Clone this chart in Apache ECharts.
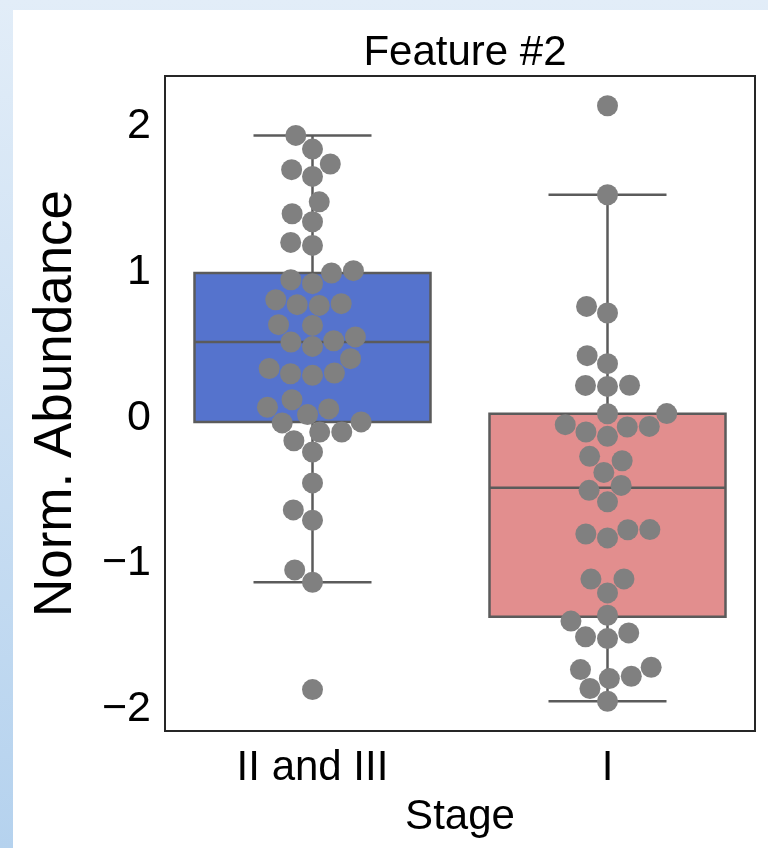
<!DOCTYPE html>
<html>
<head>
<meta charset="utf-8">
<script src="https://cdn.jsdelivr.net/npm/echarts@6/dist/echarts.min.js"></script>
<style>
  html, body {
    margin: 0; padding: 0; width: 768px; height: 848px; overflow: hidden;
    background: linear-gradient(to bottom, #e2edf8 0%, #b5d2ee 100%);
  }
  #chart { position: absolute; left: 13px; top: 10px; width: 755px; height: 838px; background: #fff; }
</style>
</head>
<body>
<div id="chart"></div>
<script>
// Stage groups and normalised abundance of feature #2 per sample
const categories = ['II and III', 'I'];
const stageIIandIII = [1.934, 1.840, 1.738, 1.699, 1.653, 1.479, 1.397, 1.342, 1.201, 1.180,
  1.007, 0.991, 0.945, 0.918, 0.808, 0.781, 0.774, 0.769, 0.637, 0.632,
  0.553, 0.527, 0.518, 0.488, 0.404, 0.336, 0.306, 0.301, 0.290, 0.123,
  0.071, 0.060, 0.021, -0.029, -0.036, -0.098, -0.099, -0.158, -0.235, -0.447,
  -0.632, -0.703, -1.043, -1.128, -1.863];
const stageI = [2.137, 1.527, 0.762, 0.717, 0.425, 0.370, 0.222, 0.221, 0.214, 0.028,
  0.027, -0.048, -0.060, -0.064, -0.098, -0.128, -0.265, -0.295, -0.375, -0.464,
  -0.498, -0.577, -0.767, -0.768, -0.797, -0.824, -1.105, -1.106, -1.201, -1.354,
  -1.394, -1.475, -1.502, -1.514, -1.710, -1.726, -1.772, -1.788, -1.856, -1.943];
const yTicks = [-2, -1, 0, 1, 2];

const groups = [stageIIandIII, stageI];
const boxColors = ['#5573cd', '#e28e8e'];
const lineColor = '#5b5b5b';
const pointColor = '#808080';
const textColor = '#000000';
const font = "'Liberation Sans', Arial, Helvetica, sans-serif";
const pointRadius = 10.5;

// Quartiles with linear interpolation, whiskers at 1.5 IQR
function quantile(sorted, p) {
  const pos = (sorted.length - 1) * p;
  const lo = Math.floor(pos), hi = Math.ceil(pos);
  return sorted[lo] + (sorted[hi] - sorted[lo]) * (pos - lo);
}
function boxStats(values) {
  const s = values.slice().sort((a, b) => a - b);
  const q1 = quantile(s, 0.25), med = quantile(s, 0.5), q3 = quantile(s, 0.75);
  const iqr = q3 - q1;
  const low = Math.min(...s.filter(v => v >= q1 - 1.5 * iqr));
  const high = Math.max(...s.filter(v => v <= q3 + 1.5 * iqr));
  return [low, q1, med, q3, high];
}
const boxData = groups.map((g, i) => [i].concat(boxStats(g)));

// Value range padded by 5% on each side
const all = groups.flat();
const dMin = Math.min(...all), dMax = Math.max(...all);
const pad = (dMax - dMin) * 0.05;
const yMin = dMin - pad, yMax = dMax + pad;

function renderBox(params, api) {
  const i = api.value(0);
  const cx = api.coord([i, 0])[0];
  const band = api.size([1, 0])[0];
  const half = band * 0.4, cap = band * 0.2;
  const py = k => api.coord([i, api.value(k)])[1];
  const yLow = py(1), yQ1 = py(2), yMed = py(3), yQ3 = py(4), yHigh = py(5);
  const ls = { stroke: lineColor, lineWidth: 2.5 };
  return {
    type: 'group',
    children: [
      { type: 'line', shape: { x1: cx, y1: yQ3, x2: cx, y2: yHigh }, style: ls },
      { type: 'line', shape: { x1: cx, y1: yQ1, x2: cx, y2: yLow }, style: ls },
      { type: 'line', shape: { x1: cx - cap, y1: yHigh, x2: cx + cap, y2: yHigh }, style: ls },
      { type: 'line', shape: { x1: cx - cap, y1: yLow, x2: cx + cap, y2: yLow }, style: ls },
      { type: 'rect', shape: { x: cx - half, y: yQ3, width: 2 * half, height: yQ1 - yQ3 },
        style: { fill: boxColors[i], stroke: lineColor, lineWidth: 2.5 } },
      { type: 'line', shape: { x1: cx - half, y1: yMed, x2: cx + half, y2: yMed }, style: ls }
    ]
  };
}

const chart = echarts.init(document.getElementById('chart'), null, { renderer: 'canvas' });

const fmtTick = v => (v < 0 ? '\u2212' + Math.abs(v) : String(v));

chart.setOption({
  animation: false,
  title: {
    text: 'Feature #2', left: 447, top: 17, textAlign: 'center',
    textStyle: { fontFamily: font, fontSize: 42, fontWeight: 'normal', color: textColor }
  },
  grid: { left: 152, top: 66, right: 13, bottom: 117, show: true,
    borderColor: '#262626', borderWidth: 2, backgroundColor: '#fff' },
  xAxis: [
    {
      type: 'category', data: categories, boundaryGap: true,
      name: 'Stage', nameLocation: 'middle', nameGap: 65,
      nameTextStyle: { fontFamily: font, fontSize: 42, color: textColor },
      axisLine: { show: false }, axisTick: { show: false }, splitLine: { show: false },
      axisLabel: { fontFamily: font, fontSize: 42, color: textColor, margin: 16 }
    },
    { type: 'value', min: -0.5, max: 1.5, show: false }
  ],
  yAxis: {
    type: 'value', min: yMin, max: yMax,
    name: 'Norm. Abundance', nameLocation: 'middle', nameGap: 82, nameRotate: 90,
    nameTextStyle: { fontFamily: font, fontSize: 53, color: textColor },
    axisLine: { show: false }, axisTick: { show: false }, splitLine: { show: false },
    axisLabel: { customValues: yTicks, formatter: fmtTick,
      fontFamily: font, fontSize: 43, color: textColor, margin: 14 }
  },
  series: [
    { type: 'custom', renderItem: renderBox, data: boxData, xAxisIndex: 0,
      encode: { x: 0, y: [1, 2, 3, 4, 5] }, z: 2 },
    { type: 'scatter', xAxisIndex: 1, data: [], symbolSize: 2 * pointRadius,
      itemStyle: { color: pointColor, opacity: 1 }, z: 5 }
  ]
});

// Beeswarm placement in pixel space: each point goes to the free slot nearest the centre line
function swarmOffsets(values, r) {
  const pts = values.map((v, idx) => ({ idx, u: -chart.convertToPixel({ yAxisIndex: 0 }, v), x: 0 }));
  pts.sort((a, b) => a.u - b.u);
  const placed = [];
  for (const p of pts) {
    const nb = [];
    for (let j = placed.length - 1; j >= 0; j--) {
      if (p.u - placed[j].u < 2 * r) nb.push(placed[j]); else break;
    }
    const cands = [0];
    let leftFirst = true;
    for (const n of nb) {
      const dy = p.u - n.u;
      const dx = Math.sqrt(Math.max(4 * r * r - dy * dy, 0)) * 1.05;
      if (leftFirst) cands.push(n.x - dx, n.x + dx); else cands.push(n.x + dx, n.x - dx);
      leftFirst = !leftFirst;
    }
    const order = cands.map((x, k) => ({ x, k }))
      .sort((a, b) => Math.abs(a.x) - Math.abs(b.x) || a.k - b.k);
    let chosen = order[0].x;
    if (nb.length) {
      for (const c of order) {
        if (nb.every(n => (n.x - c.x) ** 2 + (n.u - p.u) ** 2 >= 4 * r * r - 1e-9)) { chosen = c.x; break; }
      }
    }
    p.x = chosen;
    placed.push(p);
  }
  const out = new Array(values.length);
  placed.forEach(p => { out[p.idx] = p.x; });
  return out;
}

const bandPx = chart.convertToPixel({ xAxisIndex: 1 }, 1) - chart.convertToPixel({ xAxisIndex: 1 }, 0);
const pointData = [];
groups.forEach((g, i) => {
  const offs = swarmOffsets(g, pointRadius);
  g.forEach((v, k) => pointData.push([i + offs[k] / bandPx, v]));
});
chart.setOption({ series: [{}, { data: pointData }] });
</script>
</body>
</html>
